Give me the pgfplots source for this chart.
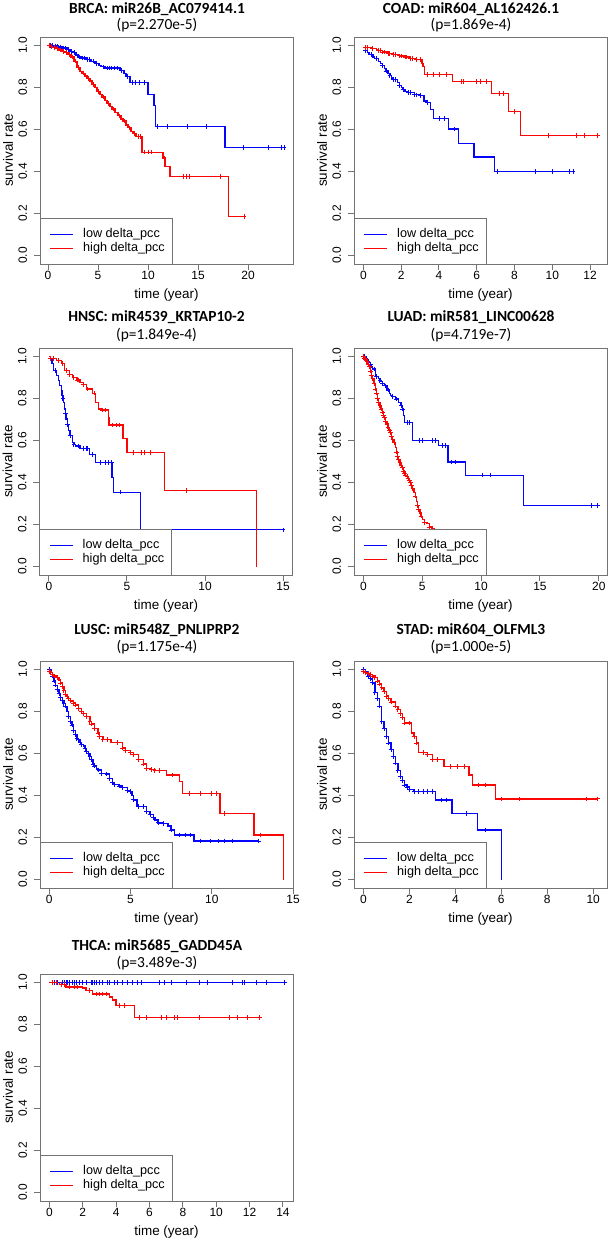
\documentclass[border=0pt]{standalone}
\usepackage{fontspec}
\setmainfont{Liberation Sans}
\newfontfamily\titlefont{Carlito}
\usepackage{pgfplots}
\usepackage{pgfplotstable}
\pgfplotsset{compat=1.18}
\usetikzlibrary{calc}
\definecolor{axgray}{rgb}{0.45,0.45,0.45}
\definecolor{kmblue}{rgb}{0.02,0.02,0.99}
\definecolor{kmred}{rgb}{0.99,0.02,0.02}

\pgfplotsset{
 kmaxis/.style={width=253bp,height=227bp,scale only axis,anchor=north west,
  ymin=-0.04,ymax=1.04,ytick={0,0.2,0.4,0.6,0.8,1},
  tick align=outside,tick pos=left,major tick length=6bp,
  axis line style={draw=axgray,line width=1bp},
  tick style={draw=axgray,line width=1bp},
  /pgf/number format/assume math mode=true,
  xticklabel={\fontsize{12}{14}\selectfont\pgfmathprintnumber[assume math mode=true]{\tick}},
  yticklabel={\fontsize{12}{14}\selectfont\pgfmathprintnumber[assume math mode=true,fixed,fixed zerofill,precision=1]{\tick}},
  yticklabel style={xshift=-6.7bp,rotate=90,anchor=south,inner sep=0pt},
  xticklabel style={anchor=north,inner sep=0pt,yshift=-1.2bp},
  xlabel={time (year)},ylabel={survival rate},
  every axis x label/.style={at={(axis description cs:0.5,-0.1366)},anchor=center,font=\fontsize{13.5}{16}\selectfont},
  every axis y label/.style={at={(axis description cs:-0.1265,0.5)},rotate=90,anchor=center,font=\fontsize{13.5}{16}\selectfont}},
 kmline/.style={const plot,line width=1.3bp,mark=none,color=#1},
 kmcens/.style={only marks,mark=+,mark size=2.3bp,color=#1,mark options={color=#1,line width=0.9bp},restrict expr to domain={\thisrow{c}}{0.5:1.5}},
}

\newcommand{\kmlegend}[1]{%
 \draw[draw=axgray,line width=1bp,fill=white] (#1.south west) rectangle ($(#1.south west)+(132bp,45.5bp)$);
 \fill[kmblue] ($(#1.south west)+(10bp,28.8bp)$) rectangle ($(#1.south west)+(33bp,30.2bp)$);
 \fill[kmred] ($(#1.south west)+(10bp,14.8bp)$) rectangle ($(#1.south west)+(33bp,16.2bp)$);
 \node[anchor=west,inner sep=0pt,font=\fontsize{12.7}{15}\selectfont] at ($(#1.south west)+(43bp,29.5bp)$) {low delta\_pcc};
 \node[anchor=west,inner sep=0pt,font=\fontsize{12.7}{15}\selectfont] at ($(#1.south west)+(43bp,15.5bp)$) {high delta\_pcc};
}
\newcommand{\kmtitle}[5]{%
 \node[anchor=base,inner sep=0pt,font=\titlefont\bfseries\fontsize{15.5}{18}\selectfont] at ($(#1.north)+(-9.5bp,#4)$) {#2};
 \node[anchor=base,inner sep=0pt,font=\titlefont\fontsize{15.5}{18}\selectfont] at ($(#1.north)+(-9.5bp,#5)$) {#3};
}
% the two curves of one panel: low (blue) and high (red)
\newcommand{\kmcurves}[2]{%
 \addplot[kmline=kmblue] table[x=t,y=s]{#1};
 \addplot[kmcens=kmblue] table[x=t,y=s]{#1};
 \addplot[kmline=kmred] table[x=t,y=s]{#2};
 \addplot[kmcens=kmred] table[x=t,y=s]{#2};
}

% ---------------- data: t = time, s = survival, c = censored mark
\pgfplotstableread[row sep=\\]{t s c\\
0 1.000 0\\ 0.2 1.000 1\\ 0.4 1.000 1\\ 0.6 0.997 0\\ 0.7 0.997 1\\ 0.9 0.997 1\\ 1.0 0.993 0\\ 1.2 0.993 1\\
1.4 0.988 0\\ 1.5 0.988 1\\ 1.7 0.988 1\\ 1.9 0.980 0\\ 2.0 0.980 1\\ 2.2 0.972 0\\ 2.3 0.972 1\\ 2.5 0.965 0\\
2.6 0.965 1\\ 2.8 0.955 0\\ 3.0 0.945 0\\ 3.1 0.945 1\\ 3.3 0.940 0\\ 3.4 0.940 1\\ 3.6 0.940 1\\ 3.8 0.932 0\\
3.9 0.932 1\\ 4.1 0.932 1\\ 4.3 0.925 0\\ 4.5 0.925 1\\ 4.7 0.915 0\\ 4.8 0.915 1\\ 5.1 0.905 0\\ 5.3 0.898 0\\
5.5 0.898 1\\ 5.7 0.892 0\\ 5.9 0.892 1\\ 6.1 0.892 1\\ 6.3 0.892 1\\ 6.6 0.892 1\\ 6.9 0.892 1\\ 7.2 0.880 0\\
7.3 0.880 1\\ 7.6 0.865 0\\ 7.8 0.852 0\\ 7.9 0.852 1\\ 8.2 0.823 0\\ 8.4 0.823 1\\ 8.7 0.823 1\\ 9.1 0.823 1\\
9.6 0.823 1\\ 10.0 0.768 0\\ 10.6 0.715 0\\ 10.75 0.613 0\\ 10.9 0.613 1\\ 11.9 0.613 1\\ 13.9 0.613 1\\
15.8 0.613 1\\ 17.7 0.513 0\\ 19.5 0.513 1\\ 22.0 0.513 1\\ 23.3 0.513 1\\ 23.6 0.513 1\\
}\brcalow
\pgfplotstableread[row sep=\\]{t s c\\
0 1.000 0\\ 0.1 1.000 1\\ 0.2 0.995 0\\ 0.3 0.995 1\\ 0.5 0.990 0\\ 0.6 0.990 1\\ 0.8 0.985 0\\ 0.9 0.985 1\\
1.1 0.978 0\\ 1.2 0.978 1\\ 1.4 0.972 0\\ 1.5 0.972 1\\ 1.7 0.965 0\\ 1.8 0.965 1\\ 2.0 0.958 0\\ 2.1 0.958 1\\
2.3 0.945 0\\ 2.4 0.945 1\\ 2.6 0.925 0\\ 2.7 0.925 1\\ 2.9 0.895 0\\ 3.0 0.895 1\\ 3.2 0.875 0\\ 3.4 0.868 0\\
3.5 0.868 1\\ 3.7 0.855 0\\ 3.9 0.843 0\\ 4.0 0.843 1\\ 4.2 0.830 0\\ 4.4 0.815 0\\ 4.5 0.815 1\\ 4.7 0.800 0\\
4.9 0.782 0\\ 5.0 0.782 1\\ 5.2 0.768 0\\ 5.4 0.755 0\\ 5.5 0.755 1\\ 5.7 0.738 0\\ 5.9 0.724 0\\ 6.0 0.724 1\\
6.2 0.710 0\\ 6.4 0.698 0\\ 6.5 0.698 1\\ 6.7 0.680 0\\ 7.0 0.665 0\\ 7.1 0.665 1\\ 7.3 0.650 0\\ 7.5 0.640 0\\
7.6 0.640 1\\ 7.8 0.622 0\\ 8.0 0.608 0\\ 8.1 0.608 1\\ 8.3 0.592 0\\ 8.5 0.582 0\\ 8.6 0.582 1\\ 8.8 0.568 0\\
9.0 0.568 1\\ 9.2 0.568 1\\ 9.4 0.492 0\\ 9.6 0.492 1\\ 10.0 0.492 1\\ 10.3 0.492 1\\ 11.5 0.465 0\\ 11.6 0.465 1\\
11.7 0.425 0\\ 12.2 0.377 0\\ 13.5 0.377 1\\ 13.8 0.377 1\\ 14.1 0.377 1\\ 17.2 0.377 1\\ 18.07 0.186 0\\ 19.6 0.186 1\\
}\brcahigh
\pgfplotstableread[row sep=\\]{t s c\\
0 0.975 0\\ 0.1 0.975 1\\ 0.2 0.965 0\\ 0.3 0.958 0\\ 0.4 0.958 1\\ 0.5 0.945 0\\ 0.6 0.938 0\\ 0.7 0.938 1\\
0.8 0.925 0\\ 0.9 0.915 0\\ 1.0 0.905 1\\ 1.1 0.890 0\\ 1.2 0.878 1\\ 1.3 0.865 0\\ 1.4 0.858 1\\ 1.5 0.845 0\\
1.6 0.838 1\\ 1.7 0.838 1\\ 1.8 0.825 0\\ 1.9 0.810 1\\ 2.0 0.800 0\\ 2.1 0.790 1\\ 2.2 0.782 0\\ 2.4 0.775 1\\
2.5 0.775 1\\ 2.7 0.765 1\\ 2.8 0.765 1\\ 3.0 0.762 1\\ 3.2 0.735 0\\ 3.4 0.728 1\\ 3.55 0.695 0\\ 3.7 0.652 0\\
4.0 0.652 1\\ 4.3 0.652 1\\ 4.5 0.603 0\\ 4.8 0.603 1\\ 5.05 0.532 0\\ 5.85 0.469 0\\ 6.95 0.400 0\\ 7.1 0.400 1\\
9.1 0.400 1\\ 10.0 0.400 1\\ 10.9 0.400 1\\ 11.1 0.400 1\\
}\coadlow
\pgfplotstableread[row sep=\\]{t s c\\
0 0.990 0\\ 0.1 0.990 1\\ 0.2 0.990 1\\ 0.4 0.985 0\\ 0.5 0.985 1\\ 0.7 0.980 0\\ 0.8 0.975 1\\ 0.9 0.975 1\\
1.0 0.968 1\\ 1.1 0.968 1\\ 1.3 0.962 1\\ 1.4 0.962 1\\ 1.6 0.956 1\\ 1.7 0.956 1\\ 1.9 0.950 1\\ 2.0 0.950 1\\
2.2 0.945 1\\ 2.3 0.945 1\\ 2.5 0.938 1\\ 2.6 0.938 1\\ 2.8 0.934 1\\ 3.0 0.934 1\\ 3.1 0.914 0\\ 3.15 0.900 0\\
3.25 0.862 0\\ 3.4 0.862 1\\ 3.7 0.862 1\\ 4.0 0.862 1\\ 4.4 0.862 1\\ 4.7 0.827 0\\ 5.2 0.827 1\\ 5.3 0.827 1\\
6.0 0.827 1\\ 6.2 0.827 1\\ 6.5 0.827 1\\ 6.8 0.772 0\\ 7.2 0.772 1\\ 7.4 0.772 1\\ 7.7 0.686 0\\ 8.0 0.686 1\\
8.3 0.571 0\\ 9.8 0.571 1\\ 11.3 0.571 1\\ 11.7 0.571 1\\ 12.4 0.571 1\\
}\coadhigh
\pgfplotstableread[row sep=\\]{t s c\\
0 1.000 0\\ 0.1 0.990 0\\ 0.2 0.965 0\\ 0.3 0.933 0\\ 0.4 0.933 1\\ 0.5 0.909 0\\ 0.6 0.885 0\\ 0.7 0.861 0\\
0.8 0.835 0\\ 0.85 0.813 0\\ 0.9 0.800 1\\ 0.95 0.780 0\\ 1.0 0.750 0\\ 1.05 0.730 1\\ 1.1 0.702 0\\ 1.2 0.675 1\\
1.25 0.646 0\\ 1.35 0.625 1\\ 1.5 0.590 0\\ 1.6 0.580 1\\ 1.7 0.574 0\\ 1.9 0.574 1\\ 2.0 0.561 0\\ 2.2 0.561 1\\
2.4 0.561 1\\ 2.5 0.561 1\\ 2.6 0.534 0\\ 2.8 0.534 1\\ 3.0 0.494 0\\ 3.3 0.494 1\\ 3.6 0.494 1\\ 3.8 0.494 1\\
4.0 0.494 1\\ 4.05 0.423 0\\ 4.15 0.354 0\\ 4.6 0.354 1\\ 5.85 0.175 0\\ 15.0 0.175 1\\
}\hnsclow
\pgfplotstableread[row sep=\\]{t s c\\
0 1.000 0\\ 0.1 0.990 1\\ 0.3 0.990 1\\ 0.5 0.980 0\\ 0.6 0.980 1\\ 0.8 0.965 0\\ 0.9 0.965 1\\ 1.0 0.933 0\\
1.1 0.933 1\\ 1.3 0.915 1\\ 1.5 0.900 0\\ 1.6 0.900 1\\ 1.8 0.888 1\\ 1.9 0.888 1\\ 2.0 0.877 0\\ 2.2 0.865 1\\
2.4 0.845 0\\ 2.5 0.845 1\\ 2.8 0.825 0\\ 2.9 0.825 1\\ 3.0 0.780 0\\ 3.2 0.750 0\\ 3.4 0.745 1\\ 3.6 0.745 1\\
3.8 0.710 0\\ 3.85 0.673 0\\ 4.1 0.673 1\\ 4.3 0.673 1\\ 4.5 0.673 1\\ 4.75 0.610 0\\ 5.0 0.542 0\\ 5.4 0.542 1\\
5.9 0.542 1\\ 6.1 0.542 1\\ 6.5 0.542 1\\ 7.4 0.362 0\\ 8.8 0.362 1\\ 13.3 0.000 0\\
}\hnschigh
\pgfplotstableread[row sep=\\]{t s c\\
0 1.000 0\\ 0.1 1.000 1\\ 0.2 0.990 0\\ 0.3 0.985 1\\ 0.4 0.975 0\\ 0.5 0.970 0\\ 0.6 0.960 1\\ 0.7 0.950 0\\
0.8 0.940 0\\ 0.9 0.940 1\\ 1.0 0.909 0\\ 1.1 0.905 1\\ 1.3 0.895 0\\ 1.4 0.885 1\\ 1.5 0.880 0\\ 1.6 0.870 1\\
1.8 0.865 0\\ 1.9 0.860 1\\ 2.0 0.845 0\\ 2.1 0.840 1\\ 2.2 0.825 0\\ 2.3 0.813 0\\ 2.5 0.810 1\\ 2.7 0.800 0\\
2.8 0.797 1\\ 3.0 0.780 0\\ 3.2 0.766 1\\ 3.3 0.750 1\\ 3.4 0.718 0\\ 3.5 0.686 0\\ 3.7 0.686 1\\ 3.9 0.686 1\\
4.2 0.600 0\\ 4.8 0.600 1\\ 5.0 0.600 1\\ 5.9 0.600 1\\ 6.1 0.600 1\\ 6.4 0.577 0\\ 6.7 0.577 1\\ 7.0 0.577 1\\
7.2 0.498 0\\ 7.5 0.498 1\\ 7.8 0.498 1\\ 8.7 0.435 0\\ 10.1 0.435 1\\ 10.8 0.435 1\\ 13.6 0.290 0\\ 19.4 0.290 1\\
19.9 0.290 1\\
}\luadlow
\pgfplotstableread[row sep=\\]{t s c\\
0 1.000 1\\ 0.1 0.990 1\\ 0.2 0.985 1\\ 0.3 0.975 1\\ 0.4 0.960 1\\ 0.5 0.950 1\\ 0.6 0.930 1\\ 0.7 0.910 1\\
0.8 0.893 1\\ 0.9 0.870 1\\ 1.0 0.845 1\\ 1.1 0.825 1\\ 1.2 0.800 1\\ 1.3 0.780 1\\ 1.4 0.765 1\\ 1.5 0.750 1\\
1.6 0.735 1\\ 1.7 0.720 1\\ 1.8 0.710 1\\ 1.9 0.690 1\\ 2.0 0.678 1\\ 2.1 0.660 1\\ 2.2 0.650 1\\ 2.3 0.638 1\\
2.4 0.620 1\\ 2.5 0.606 1\\ 2.6 0.590 1\\ 2.7 0.566 0\\ 2.8 0.545 1\\ 2.9 0.525 1\\ 3.0 0.510 1\\ 3.1 0.495 1\\
3.2 0.480 1\\ 3.3 0.470 1\\ 3.4 0.455 1\\ 3.5 0.445 1\\ 3.6 0.435 1\\ 3.7 0.430 1\\ 3.8 0.420 1\\ 3.9 0.410 1\\
4.0 0.400 1\\ 4.1 0.385 1\\ 4.2 0.370 1\\ 4.3 0.353 0\\ 4.4 0.335 1\\ 4.5 0.310 0\\ 4.6 0.289 1\\ 4.7 0.270 1\\
4.8 0.255 0\\ 4.9 0.240 1\\ 5.0 0.223 0\\ 5.2 0.210 1\\ 5.4 0.204 0\\ 5.6 0.188 1\\ 5.9 0.180 1\\
}\luadhigh
\pgfplotstableread[row sep=\\]{t s c\\
0 1.000 1\\ 0.1 0.985 1\\ 0.2 0.968 1\\ 0.3 0.945 1\\ 0.4 0.925 1\\ 0.5 0.904 1\\ 0.6 0.885 1\\ 0.7 0.866 1\\
0.8 0.850 1\\ 0.9 0.838 1\\ 1.0 0.825 1\\ 1.1 0.800 0\\ 1.2 0.775 1\\ 1.3 0.753 1\\ 1.4 0.735 1\\ 1.5 0.710 1\\
1.6 0.690 1\\ 1.7 0.672 1\\ 1.8 0.665 1\\ 1.9 0.652 1\\ 2.0 0.642 1\\ 2.1 0.635 0\\ 2.2 0.625 1\\ 2.3 0.610 1\\
2.4 0.600 1\\ 2.5 0.586 1\\ 2.6 0.570 1\\ 2.7 0.550 1\\ 2.8 0.540 1\\ 2.9 0.530 0\\ 3.0 0.522 1\\ 3.2 0.505 1\\
3.5 0.503 1\\ 3.7 0.480 1\\ 3.9 0.460 1\\ 4.0 0.451 1\\ 4.3 0.445 1\\ 4.5 0.438 1\\ 4.8 0.425 1\\ 5.0 0.419 1\\
5.1 0.400 0\\ 5.2 0.379 1\\ 5.4 0.355 0\\ 5.5 0.347 1\\ 5.8 0.347 1\\ 6.0 0.323 1\\ 6.2 0.310 1\\ 6.4 0.295 1\\
6.5 0.283 0\\ 6.7 0.270 1\\ 7.0 0.268 1\\ 7.3 0.255 0\\ 7.5 0.236 1\\ 7.7 0.212 0\\ 8.0 0.212 1\\ 8.4 0.212 1\\
8.7 0.212 1\\ 8.9 0.183 0\\ 9.3 0.183 1\\ 9.9 0.183 1\\ 10.4 0.183 1\\ 10.8 0.183 1\\ 11.3 0.183 1\\ 12.9 0.183 1\\
}\lusclow
\pgfplotstableread[row sep=\\]{t s c\\
0 0.990 1\\ 0.1 0.985 1\\ 0.2 0.975 1\\ 0.3 0.968 1\\ 0.5 0.960 1\\ 0.6 0.950 0\\ 0.7 0.935 1\\ 0.8 0.920 1\\
0.9 0.900 1\\ 1.0 0.880 1\\ 1.1 0.870 1\\ 1.2 0.860 1\\ 1.3 0.850 1\\ 1.5 0.840 1\\ 1.6 0.830 1\\ 1.8 0.815 1\\
2.0 0.800 1\\ 2.1 0.790 1\\ 2.3 0.775 1\\ 2.5 0.753 1\\ 2.6 0.740 1\\ 2.8 0.720 1\\ 3.0 0.697 1\\ 3.1 0.680 1\\
3.3 0.666 1\\ 3.6 0.666 1\\ 3.8 0.653 0\\ 4.2 0.653 1\\ 4.5 0.626 1\\ 4.7 0.615 1\\ 5.0 0.605 1\\ 5.2 0.595 1\\
5.5 0.570 1\\ 5.8 0.550 1\\ 6.0 0.530 1\\ 6.3 0.525 1\\ 6.5 0.519 1\\ 6.8 0.519 1\\ 7.2 0.498 0\\ 7.6 0.498 1\\
8.0 0.466 0\\ 8.2 0.411 0\\ 8.6 0.411 1\\ 9.3 0.411 1\\ 10.0 0.411 1\\ 10.3 0.411 1\\ 10.5 0.315 0\\ 10.8 0.315 1\\
12.6 0.212 0\\ 13.0 0.212 1\\ 14.4 0.000 0\\
}\luschigh
\pgfplotstableread[row sep=\\]{t s c\\
0 1.000 1\\ 0.1 0.990 1\\ 0.2 0.968 1\\ 0.3 0.955 1\\ 0.4 0.936 1\\ 0.5 0.890 1\\ 0.6 0.860 1\\ 0.7 0.825 1\\
0.8 0.753 1\\ 0.9 0.720 1\\ 1.0 0.680 1\\ 1.1 0.650 1\\ 1.2 0.618 1\\ 1.3 0.585 1\\ 1.4 0.554 1\\ 1.5 0.520 1\\
1.6 0.490 1\\ 1.7 0.470 1\\ 1.8 0.450 1\\ 1.9 0.440 1\\ 2.0 0.430 1\\ 2.2 0.419 1\\ 2.4 0.419 1\\ 2.6 0.419 1\\
2.8 0.419 1\\ 3.0 0.419 1\\ 3.15 0.379 0\\ 3.4 0.379 1\\ 3.6 0.379 1\\ 3.85 0.315 0\\ 4.5 0.315 1\\ 4.95 0.236 0\\
5.3 0.236 1\\ 6.0 0.000 0\\
}\stadlow
\pgfplotstableread[row sep=\\]{t s c\\
0 0.990 1\\ 0.1 0.985 1\\ 0.2 0.980 1\\ 0.3 0.975 1\\ 0.4 0.968 1\\ 0.5 0.960 1\\ 0.6 0.945 1\\ 0.7 0.930 1\\
0.8 0.912 1\\ 0.9 0.895 1\\ 1.0 0.873 1\\ 1.1 0.860 1\\ 1.2 0.845 1\\ 1.4 0.825 1\\ 1.5 0.809 1\\ 1.6 0.790 1\\
1.7 0.770 1\\ 1.8 0.745 1\\ 2.0 0.745 1\\ 2.1 0.697 0\\ 2.2 0.680 1\\ 2.3 0.650 1\\ 2.4 0.605 0\\ 2.6 0.605 1\\
2.8 0.594 1\\ 3.0 0.570 1\\ 3.2 0.570 1\\ 3.5 0.538 0\\ 3.8 0.538 1\\ 4.1 0.538 1\\ 4.4 0.538 1\\ 4.6 0.498 0\\
4.75 0.450 0\\ 5.0 0.450 1\\ 5.3 0.450 1\\ 5.75 0.384 0\\ 6.0 0.384 1\\ 6.8 0.384 1\\ 9.7 0.384 1\\ 10.2 0.384 1\\
}\stadhigh
\pgfplotstableread[row sep=\\]{t s c\\
0 1.000 0\\ 0.3 1.000 1\\ 0.5 1.000 1\\ 0.8 1.000 1\\ 0.9 1.000 1\\ 1.0 1.000 1\\ 1.1 1.000 1\\ 1.2 1.000 1\\
1.4 1.000 1\\ 1.5 1.000 1\\ 1.6 1.000 1\\ 1.8 1.000 1\\ 2.0 1.000 1\\ 2.2 1.000 1\\ 2.5 1.000 1\\ 2.6 1.000 1\\
2.7 1.000 1\\ 2.8 1.000 1\\ 3.0 1.000 1\\ 3.2 1.000 1\\ 3.5 1.000 1\\ 3.6 1.000 1\\ 3.9 1.000 1\\ 4.1 1.000 1\\
4.4 1.000 1\\ 4.7 1.000 1\\ 5.0 1.000 1\\ 5.3 1.000 1\\ 5.5 1.000 1\\ 6.6 1.000 1\\ 6.9 1.000 1\\ 7.3 1.000 1\\
8.2 1.000 1\\ 9.0 1.000 1\\ 9.5 1.000 1\\ 11.0 1.000 1\\ 11.6 1.000 1\\ 11.7 1.000 1\\ 12.4 1.000 1\\ 13.0 1.000 1\\
14.1 1.000 1\\
}\thcalow
\pgfplotstableread[row sep=\\]{t s c\\
0 1.000 0\\ 0.2 1.000 1\\ 0.4 1.000 1\\ 0.6 0.989 0\\ 0.7 0.989 1\\ 0.9 0.989 1\\ 1.0 0.978 0\\ 1.2 0.978 1\\
1.5 0.978 1\\ 1.7 0.978 1\\ 2.0 0.973 0\\ 2.2 0.962 0\\ 2.4 0.962 1\\ 2.6 0.945 0\\ 2.8 0.945 1\\ 3.0 0.945 1\\
3.2 0.945 1\\ 3.4 0.945 1\\ 3.6 0.930 0\\ 3.8 0.917 0\\ 4.0 0.889 0\\ 4.2 0.889 1\\ 4.5 0.889 1\\ 5.1 0.833 0\\
5.4 0.833 1\\ 5.8 0.833 1\\ 6.7 0.833 1\\ 7.0 0.833 1\\ 7.5 0.833 1\\ 7.7 0.833 1\\ 9.0 0.833 1\\ 10.8 0.833 1\\
11.3 0.833 1\\ 11.9 0.833 1\\ 12.6 0.833 1\\
}\thcahigh

\begin{document}
\begin{tikzpicture}
\path[use as bounding box] (0,0) rectangle (609bp,-1240bp);

% BRCA
\begin{axis}[kmaxis,name=a1,at={(40bp,-37bp)},xmin=-0.8,xmax=24.5,xtick={0,5,10,15,20}]
\kmcurves{\brcalow}{\brcahigh}
\end{axis}
\kmlegend{a1}
\kmtitle{a1}{BRCA: miR26B\_AC079414.1}{(p=2.270e-5)}{23.3bp}{7.3bp}

% COAD
\begin{axis}[kmaxis,name=a2,at={(354bp,-37bp)},xmin=-0.5,xmax=12.9,xtick={0,2,4,6,8,10,12}]
\kmcurves{\coadlow}{\coadhigh}
\end{axis}
\kmlegend{a2}
\kmtitle{a2}{COAD: miR604\_AL162426.1}{(p=1.869e-4)}{23.3bp}{7.3bp}

% HNSC
\begin{axis}[kmaxis,name=a3,at={(39.5bp,-348bp)},xmin=-0.6,xmax=15.6,xtick={0,5,10,15}]
\kmcurves{\hnsclow}{\hnschigh}
\end{axis}
\kmlegend{a3}
\kmtitle{a3}{HNSC: miR4539\_KRTAP10-2}{(p=1.849e-4)}{26.6bp}{9bp}

% LUAD
\begin{axis}[kmaxis,name=a4,at={(354bp,-348bp)},xmin=-0.8,xmax=20.7,xtick={0,5,10,15,20}]
\kmcurves{\luadlow}{\luadhigh}
\end{axis}
\kmlegend{a4}
\kmtitle{a4}{LUAD: miR581\_LINC00628}{(p=4.719e-7)}{26.6bp}{9bp}

% LUSC
\begin{axis}[kmaxis,name=a5,at={(40bp,-661bp)},xmin=-0.57,xmax=15.0,xtick={0,5,10,15}]
\kmcurves{\lusclow}{\luschigh}
\end{axis}
\kmlegend{a5}
\kmtitle{a5}{LUSC: miR548Z\_PNLIPRP2}{(p=1.175e-4)}{26.7bp}{9.3bp}

% STAD
\begin{axis}[kmaxis,name=a6,at={(354bp,-661bp)},xmin=-0.41,xmax=10.6,xtick={0,2,4,6,8,10}]
\kmcurves{\stadlow}{\stadhigh}
\end{axis}
\kmlegend{a6}
\kmtitle{a6}{STAD: miR604\_OLFML3}{(p=1.000e-5)}{26.7bp}{9.3bp}

% THCA
\begin{axis}[kmaxis,name=a7,at={(40bp,-974bp)},xmin=-0.56,xmax=14.6,xtick={0,2,4,6,8,10,12,14}]
\kmcurves{\thcalow}{\thcahigh}
\end{axis}
\kmlegend{a7}
\kmtitle{a7}{THCA: miR5685\_GADD45A}{(p=3.489e-3)}{24bp}{6.3bp}
\end{tikzpicture}
\end{document}
